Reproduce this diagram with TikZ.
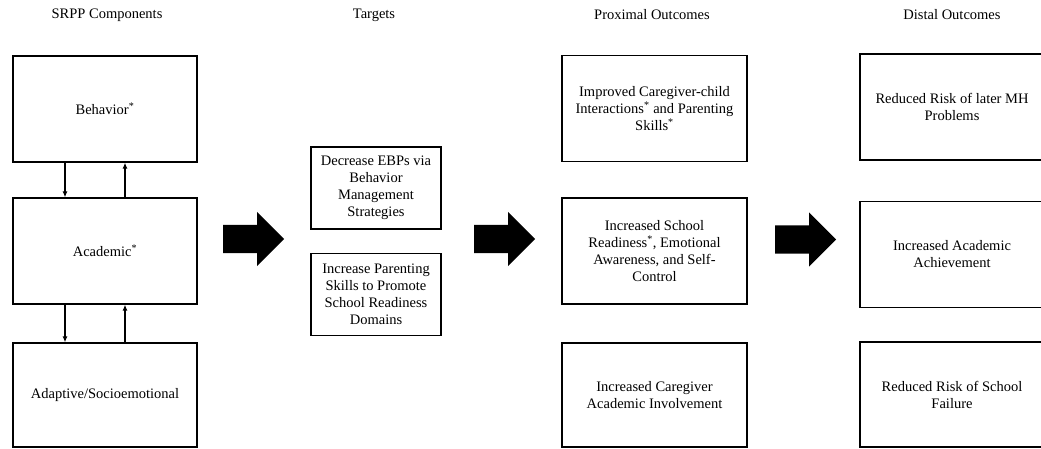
\documentclass[tikz,border=0pt]{standalone}
\usepackage{fontspec}
\setmainfont{Liberation Serif}
\usepackage{tikz}
\usetikzlibrary{arrows.meta}
\usetikzlibrary{shapes.arrows}

\begin{document}
\begin{tikzpicture}[x=1pt,y=-1pt]
\tikzset{font=\fontsize{14.5}{17}\selectfont}
\tikzset{box/.style={draw, line width=1.2pt, align=center, inner sep=2pt}}
\tikzset{compbox/.style={box, minimum width=184pt, minimum height=106pt}}
\tikzset{tgtbox/.style={box, minimum width=130pt, minimum height=82pt}}
\tikzset{outbox/.style={box, minimum width=185pt, minimum height=106pt}}
\tikzset{bigarrow/.style={single arrow, fill=black, draw=none, inner xsep=0pt, inner ysep=14pt, minimum height=61pt, single arrow head extend=13pt, single arrow head indent=0pt, anchor=tail}}
\tikzset{link/.style={line width=1.2pt, -{Latex[length=6pt,width=5pt]}}}
\clip (0,0) rectangle (1041,449);

% column headings
\node (hcomp) at (107,15) {SRPP Components};
\node (htgt) at (374,15) {Targets};
\node (hprox) at (652,15) {Proximal Outcomes};
\node (hdist) at (952,15) {Distal Outcomes};

% SRPP components
\node[compbox] (beh) at (105,109) {Behavior\textsuperscript{*}};
\node[compbox] (acad) at (105,251) {Academic\textsuperscript{*}};
\node[compbox, minimum height=104pt] (adapt) at (105,395) {Adaptive/Socioemotional};

\draw[link] ([xshift=-40pt]beh.south) -- ([xshift=-40pt]acad.north);
\draw[link] ([xshift=20pt]acad.north) -- ([xshift=20pt]beh.south);
\draw[link] ([xshift=-40pt]acad.south) -- ([xshift=-40pt]adapt.north);
\draw[link] ([xshift=20pt]adapt.north) -- ([xshift=20pt]acad.south);

% targets
\node[tgtbox] (tgt1) at (376,188) {Decrease EBPs via\\Behavior\\Management\\Strategies};
\node[tgtbox] (tgt2) at (376,294.5) {Increase Parenting\\Skills to Promote\\School Readiness\\Domains};

% proximal outcomes
\node[outbox] (prox1) at (654.5,108.5) {Improved Caregiver-child\\Interactions\textsuperscript{*} and Parenting\\Skills\textsuperscript{*}};
\node[outbox] (prox2) at (654.5,251) {Increased School\\Readiness\textsuperscript{*}, Emotional\\Awareness, and Self-\\Control};
\node[outbox, minimum height=104pt] (prox3) at (654.5,395) {Increased Caregiver\\Academic Involvement};

% distal outcomes
\node[outbox, minimum width=184pt] (dist1) at (952,107) {Reduced Risk of later MH\\Problems};
\node[outbox, minimum width=184pt] (dist2) at (952,254.5) {Increased Academic\\Achievement};
\node[outbox, minimum width=184pt, minimum height=105pt] (dist3) at (952,394.5) {Reduced Risk of School\\Failure};

% block arrows
\node[bigarrow] (arr1) at (223,239) {};
\node[bigarrow] (arr2) at (474,239) {};
\node[bigarrow] (arr3) at (775,239.5) {};
\end{tikzpicture}
\end{document}
